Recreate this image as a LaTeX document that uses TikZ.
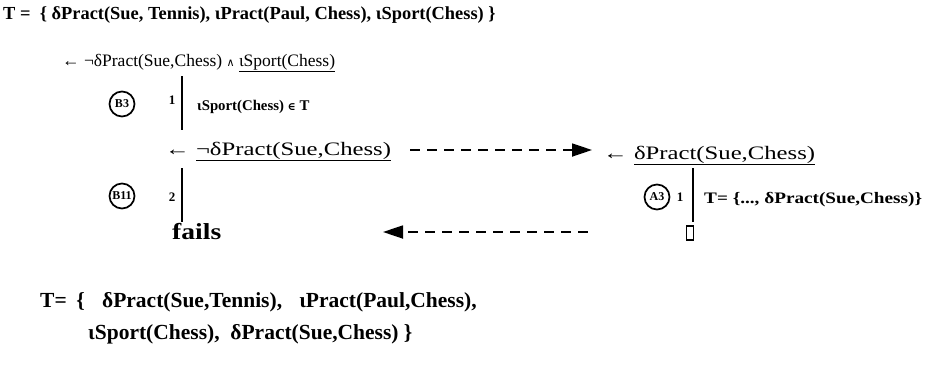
\documentclass[tikz,border=0pt]{standalone}
\usepackage{fontspec}
\setmainfont{Liberation Serif}
\newfontfamily\wideserif[FakeStretch=1.3]{Liberation Serif}
\newfontfamily\midserif[FakeStretch=1.2]{Liberation Serif}
\newfontfamily\dvs{DejaVu Serif}
\usetikzlibrary{arrows.meta}
\tikzset{
  txt/.style={inner sep=0pt, anchor=base west},
  bigb/.style={txt, font=\fontsize{18.4}{20}\selectfont\bfseries},
  botb/.style={txt, font=\fontsize{21.5}{24}\selectfont\bfseries},
  reg/.style={txt, font=\fontsize{17.5}{20}\selectfont},
  wreg/.style={txt, font=\wideserif\fontsize{19}{22}\selectfont},
  small/.style={txt, font=\fontsize{14.8}{16}\selectfont\bfseries},
  wsmall/.style={txt, font=\midserif\fontsize{16}{18}\selectfont\bfseries},
  lbl/.style={circle, draw, line width=1.7pt, inner sep=1pt, minimum size=25pt,
    font=\fontsize{12}{13}\selectfont\bfseries},
  num/.style={inner sep=0pt, font=\fontsize{13}{14}\selectfont\bfseries},
  bar/.style={line width=1.6pt},
  dasharrow/.style={line width=1.8pt, dash pattern=on 10pt off 7pt,
    -{Triangle[length=20pt,width=13pt]}},
}
\begin{document}
\begin{tikzpicture}[x=1pt,y=-1pt]
\useasboundingbox (0,0) rectangle (932,381);
% line 1
\node[bigb] (t1) at (3,19) {T =\ \ \{ δPract(Sue, Tennis), ιPract(Paul, Chess), ιSport(Chess) \}};
% line 2
\node[reg] (g1) at (62,66) {← ¬δPract(Sue,Chess) {\dvs\fontsize{11}{12}\selectfont ∧} \underline{ιSport(Chess)}};
% step B3
\node[lbl] (b3) at (122,104) {B3};
\node[num] (n1) at (172,100) {1};
\coordinate (bar1t) at (182,76);
\coordinate (bar1b) at (182,130);
\draw[bar] (bar1t) -- (bar1b);
\node[small] (r1) at (197,110) {ιSport(Chess) {\dvs\fontsize{11}{12}\selectfont ∈} T};
% line 3 left
\node[wreg] (g2) at (165,155) {← \underline{¬δPract(Sue,Chess)}};
% line 3 right
\node[wreg] (g3) at (603,159) {← \underline{δPract(Sue,Chess)}};
\coordinate (ua1) at ([xshift=19pt]g2.east |- 0,150);
\coordinate (ua2) at ([xshift=-11pt]g3.west |- 0,150);
\draw[dasharrow] (ua1) -- (ua2);
% step B11
\node[lbl] (b11) at (122,196) {B11};
\node[num] (n2) at (172,197) {2};
\coordinate (bar2t) at (182,168);
\coordinate (bar2b) at (182,222);
\draw[bar] (bar2t) -- (bar2b);
\node[txt, font=\midserif\fontsize{23}{26}\selectfont\bfseries] (fails) at (172,239) {fails};
% step A3
\node[lbl] (a3) at (657,197) {A3};
\node[num] (n3) at (680,197) {1};
\coordinate (bar3t) at (693,168);
\coordinate (bar3b) at (693,222);
\draw[bar] (bar3t) -- (bar3b);
\node[wsmall] (r3) at (704,203) {T= \{..., δPract(Sue,Chess)\}};
\node[draw, line width=1.3pt, minimum width=7pt, minimum height=14pt, inner sep=0pt] (box) at (690,233) {};
\coordinate (la1) at ([xshift=-98pt]box.west |- 0,232);
\coordinate (la2) at (383,232);
\draw[dasharrow] (la1) -- (la2);
% bottom
\node[botb] (t2) at (40,307) {T=\hspace{0.45em}\{\hspace{0.8em}δPract(Sue,Tennis),\hspace{0.8em}ιPract(Paul,Chess),};
\node[botb] (t3) at (88,339) {ιSport(Chess),\ \ δPract(Sue,Chess) \}};
\end{tikzpicture}
\end{document}
